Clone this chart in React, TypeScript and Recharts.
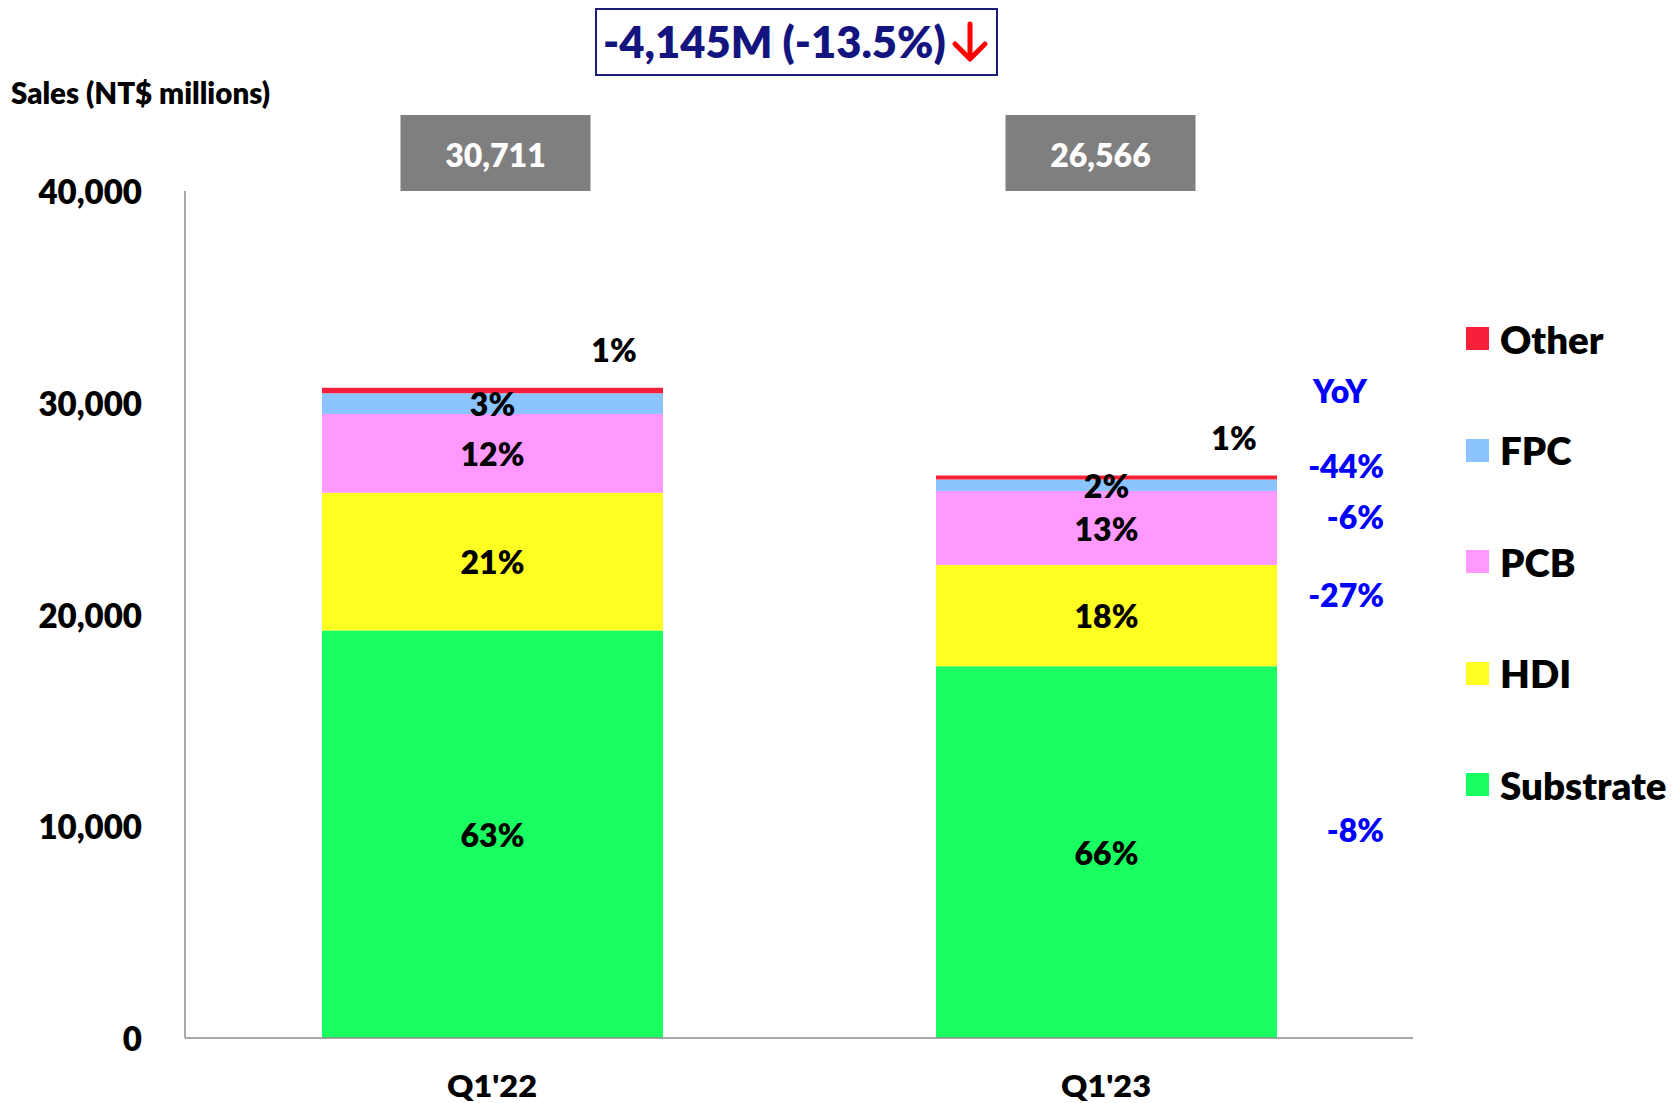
import React from 'react';
import { BarChart, Bar, XAxis, YAxis, LabelList, Legend } from 'recharts';

// ---------- data ----------
const categories = ["Q1'22", "Q1'23"];
const substrate = [19250, 17560];
const hdi = [6500, 4780];
const pcb = [3720, 3490];
const fpc = [980, 540];
const other = [261, 196];
const totals = ['30,711', '26,566'];

const substrateShare = ['63%', '66%'];
const hdiShare = ['21%', '18%'];
const pcbShare = ['12%', '13%'];
const fpcShare = ['3%', '2%'];
const otherShare = ['1%', '1%'];

const substrateYoY = '-8%';
const hdiYoY = '-27%';
const pcbYoY = '-6%';
const fpcYoY = '-44%';

const yTicks = [0, 10000, 20000, 30000, 40000];
const totalChange = '-4,145M (-13.5%)';
const yAxisTitle = 'Sales (NT$ millions)';
const yoyTitle = 'YoY';

// ---------- layout / style ----------
const W = 1673;
const H = 1103;
const MARGIN = { top: 191, right: 260, bottom: 0, left: 0 };
const FONT = 'Lato, "DejaVu Sans", sans-serif';
const WEIGHT = 800;
const AXIS_COLOR = '#8c8c8c';
const YOY_COLOR = '#0000ff';
const BOX_OFFSETS = [3, -6];
const OTHER_LABEL_OFFSETS = [-49, -43];

const series = [
  { key: 'Substrate', values: substrate, share: substrateShare, yoy: substrateYoY, yoyDy: -23, color: '#19ff62' },
  { key: 'HDI', values: hdi, share: hdiShare, yoy: hdiYoY, yoyDy: -21, color: '#ffff21' },
  { key: 'PCB', values: pcb, share: pcbShare, yoy: pcbYoY, yoyDy: -12, color: '#ff99ff' },
  { key: 'FPC', values: fpc, share: fpcShare, yoy: fpcYoY, yoyDy: -20, color: '#8bc4ff' },
  { key: 'Other', values: other, share: otherShare, yoy: null as string | null, yoyDy: 0, color: '#f7203a' },
];

const data = categories.map((name, i) => {
  const row: Record<string, any> = { name };
  series.forEach((s) => {
    row[s.key] = s.values[i];
  });
  return row;
});

const fmt = (v: number) => v.toLocaleString('en-US');

const YTick = (props: any) => {
  const { x, y, payload } = props;
  return (
    <text x={x} y={y} textAnchor="end" dominantBaseline="central" fontFamily={FONT} fontWeight={WEIGHT} fontSize={33} fill="#000">
      {fmt(payload.value)}
    </text>
  );
};

const XTick = (props: any) => {
  const { x, y, payload } = props;
  return (
    <text
      x={x}
      y={y + 47}
      textAnchor="middle"
      dominantBaseline="central"
      fontFamily={FONT}
      fontWeight={WEIGHT}
      fontSize={31}
      fill="#000"
      textLength={90}
      lengthAdjust="spacingAndGlyphs"
    >
      {payload.value}
    </text>
  );
};

const makeShareLabel = (s: typeof series[number]) => (props: any) => {
  const { x, y, width, height, index } = props;
  const text = s.share[index];
  if (s.key === 'Other') {
    return (
      <text x={x + width + OTHER_LABEL_OFFSETS[index]} y={y - 38} textAnchor="middle" dominantBaseline="central" fontFamily={FONT} fontWeight={WEIGHT} fontSize={32} fill="#000">
        {text}
      </text>
    );
  }
  return (
    <text x={x + width / 2} y={y + height / 2} textAnchor="middle" dominantBaseline="central" fontFamily={FONT} fontWeight={WEIGHT} fontSize={32} fill="#000">
      {text}
    </text>
  );
};

const makeYoYLabel = (s: typeof series[number]) => (props: any) => {
  const { x, y, width, height, index } = props;
  if (index !== 1 || !s.yoy) return null;
  return (
    <text x={x + width + 107} y={y + height / 2 + s.yoyDy} textAnchor="end" dominantBaseline="central" fontFamily={FONT} fontWeight={WEIGHT} fontSize={32} fill={YOY_COLOR}>
      {s.yoy}
    </text>
  );
};

const TotalBox = (props: any) => {
  const { x, width, index } = props;
  const cx = x + width / 2 + BOX_OFFSETS[index];
  const bw = 190;
  const bh = 76;
  const top = MARGIN.top - bh;
  return (
    <g>
      <rect x={cx - bw / 2} y={top} width={bw} height={bh} fill="#7f7f7f" />
      <text x={cx} y={top + bh / 2 + 1} textAnchor="middle" dominantBaseline="central" fontFamily={FONT} fontWeight={WEIGHT} fontSize={32} fill="#fff">
        {totals[index]}
      </text>
    </g>
  );
};

const LegendContent = (props: any) => {
  const payload = props.payload || [];
  const ordered = [...series].reverse().map((s) => {
    const p = payload.find((e: any) => e.dataKey === s.key || e.value === s.key);
    return { name: s.key, color: p ? p.color : s.color };
  });
  return (
    <div style={{ fontFamily: FONT }}>
      {ordered.map((p) => (
        <div key={p.name} style={{ height: 111.5, display: 'flex', alignItems: 'center' }}>
          <div style={{ width: 23, height: 23, background: p.color, marginRight: 11 }} />
          <span style={{ fontSize: 38.5, fontWeight: WEIGHT, color: '#000', lineHeight: 1, whiteSpace: 'nowrap' }}>{p.name}</span>
        </div>
      ))}
    </div>
  );
};

const DownArrow = () => (
  <svg width={38} height={42} viewBox="0 0 38 42" style={{ display: 'block', marginLeft: 5 }}>
    <path d="M19 3 L19 37 M4 23 L19 38 L34 23" fill="none" stroke="#ff0000" strokeWidth={5} strokeLinecap="round" strokeLinejoin="round" />
  </svg>
);

export default function App() {
  return (
    <div style={{ position: 'absolute', left: 0, top: 0, width: W, height: H, background: '#fff', fontFamily: FONT }}>
      <BarChart width={W} height={H} data={data} margin={MARGIN} barSize={341}>
        <XAxis
          dataKey="name"
          height={65}
          tick={<XTick />}
          tickLine={false}
          tickSize={0}
          tickMargin={0}
          axisLine={{ stroke: AXIS_COLOR, strokeWidth: 1.5 }}
        />
        <YAxis
          width={185}
          domain={[0, 40000]}
          ticks={yTicks}
          tick={<YTick />}
          tickLine={false}
          tickSize={0}
          tickMargin={43}
          axisLine={{ stroke: AXIS_COLOR, strokeWidth: 1.5 }}
        />
        <Legend
          layout="vertical"
          align="center"
          verticalAlign="middle"
          content={<LegendContent />}
          wrapperStyle={{ position: 'absolute', left: 1466, top: 283, width: 207, height: 560 }}
        />
        {series.map((s) => (
          <Bar key={s.key} dataKey={s.key} stackId="a" fill={s.color} isAnimationActive={false}>
            <LabelList dataKey={s.key} content={makeShareLabel(s)} />
            <LabelList dataKey={s.key} content={makeYoYLabel(s)} />
            {s.key === 'Other' ? <LabelList dataKey={s.key} content={<TotalBox />} /> : null}
          </Bar>
        ))}
      </BarChart>

      {/* y axis title */}
      <div style={{ position: 'absolute', left: 11, top: 93, transform: 'translateY(-50%)', fontSize: 29.5, fontWeight: WEIGHT, color: '#000', whiteSpace: 'nowrap', lineHeight: 1 }}>
        {yAxisTitle}
      </div>

      {/* total change box */}
      <div
        style={{
          position: 'absolute',
          left: 595,
          top: 8,
          width: 403,
          height: 68,
          boxSizing: 'border-box',
          border: '2px solid #1c1c7a',
          display: 'flex',
          alignItems: 'center',
          paddingLeft: 6,
          whiteSpace: 'nowrap',
        }}
      >
        <span style={{ fontSize: 43.5, fontWeight: WEIGHT, color: '#14147f', lineHeight: 1 }}>{totalChange}</span>
        <DownArrow />
      </div>

      {/* YoY title */}
      <div style={{ position: 'absolute', left: 1340, top: 391, transform: 'translate(-50%, -50%)', fontSize: 32, fontWeight: WEIGHT, color: YOY_COLOR, lineHeight: 1 }}>
        {yoyTitle}
      </div>
    </div>
  );
}
